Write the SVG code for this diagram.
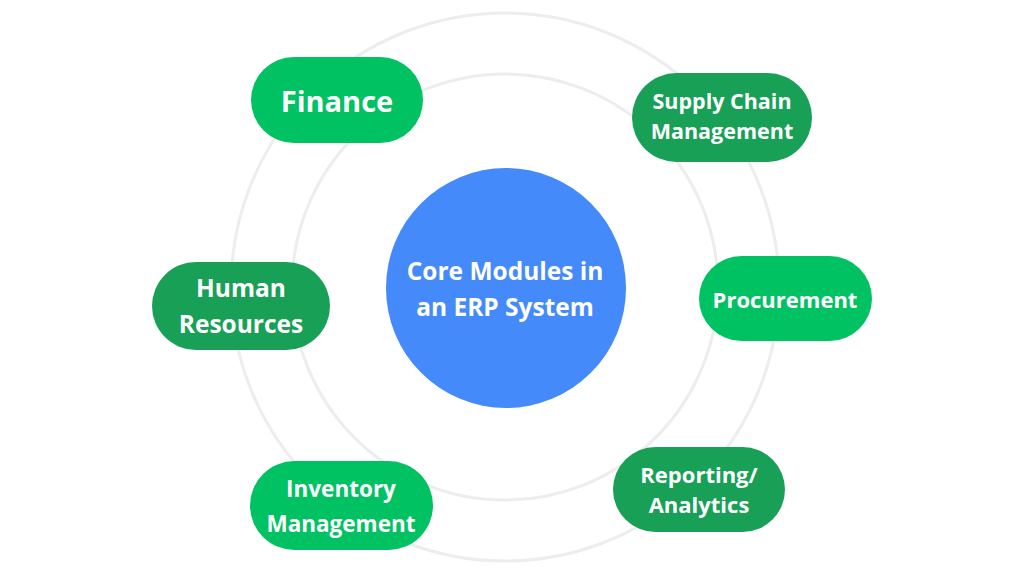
<svg xmlns="http://www.w3.org/2000/svg" width="1024" height="576" viewBox="0 0 1024 576">
  <style>
    .ring { fill: none; stroke: #EDEDED; stroke-width: 3; }
    .light { fill: #00C262; }
    .dark { fill: #17A056; }
    .lbl { fill: #FFFFFF; font-family: "Open Sans", "Liberation Sans", sans-serif; font-weight: 700; text-anchor: middle; }
  </style>
  <rect width="1024" height="576" fill="#FFFFFF"/>
  <g id="connectors">
    <circle class="ring" cx="505" cy="287" r="274"/>
    <circle class="ring" cx="505" cy="287" r="213"/>
  </g>
  <g id="core">
    <circle cx="506" cy="288" r="120" fill="#448AFA"/>
    <text class="lbl" x="505" y="280" font-size="24.5">Core Modules in</text>
    <text class="lbl" x="505" y="316" font-size="24.5">an ERP System</text>
  </g>
  <g id="finance">
    <rect class="light" x="251" y="57" width="172" height="86" rx="43"/>
    <text class="lbl" x="337" y="112" font-size="29">Finance</text>
  </g>
  <g id="supply-chain">
    <rect class="dark" x="632" y="73" width="180" height="89" rx="44.5"/>
    <text class="lbl" x="722" y="109" font-size="21.5">Supply Chain</text>
    <text class="lbl" x="722" y="139" font-size="21.5">Management</text>
  </g>
  <g id="human-resources">
    <rect class="dark" x="152" y="262" width="178" height="88" rx="44"/>
    <text class="lbl" x="241" y="297" font-size="24.5">Human</text>
    <text class="lbl" x="241" y="333" font-size="24.5">Resources</text>
  </g>
  <g id="procurement">
    <rect class="light" x="699" y="256" width="173" height="85" rx="42.5"/>
    <text class="lbl" x="785" y="308" font-size="22">Procurement</text>
  </g>
  <g id="inventory">
    <rect class="light" x="250" y="461" width="183" height="89" rx="44.5"/>
    <text class="lbl" x="341" y="497" font-size="22.5">Inventory</text>
    <text class="lbl" x="341" y="532" font-size="22.5">Management</text>
  </g>
  <g id="reporting">
    <rect class="dark" x="613" y="447" width="172" height="85" rx="42.5"/>
    <text class="lbl" x="699" y="483" font-size="22">Reporting/</text>
    <text class="lbl" x="699" y="513" font-size="22">Analytics</text>
  </g>
</svg>
